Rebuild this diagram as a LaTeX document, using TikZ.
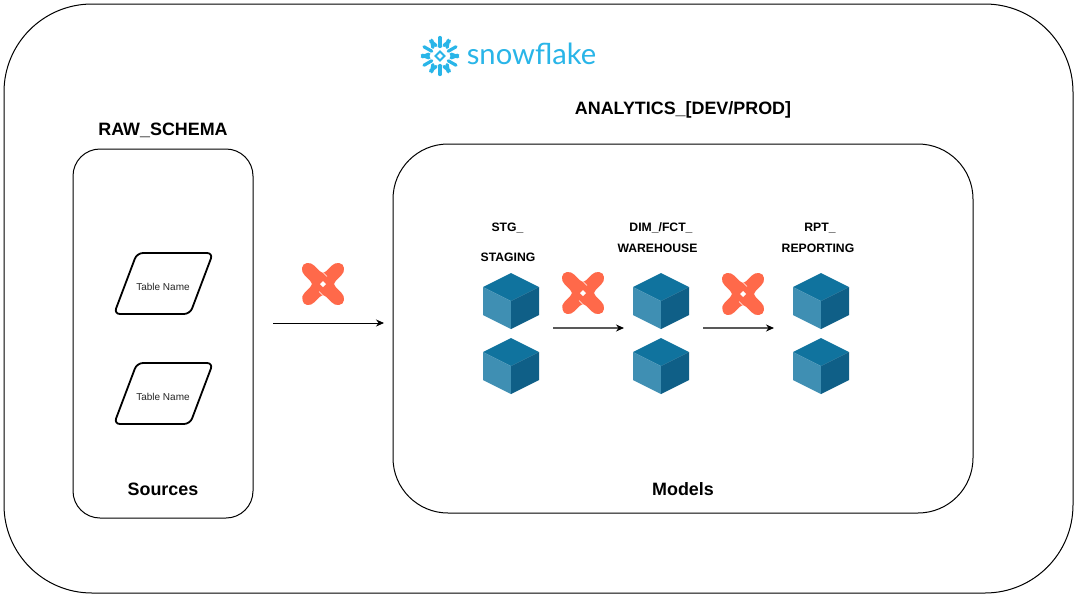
\documentclass[tikz,border=0pt]{standalone}
\usepackage{fontspec}
\usetikzlibrary{arrows.meta}
\setmainfont{Liberation Sans}
\newfontfamily\logofont{Lato}
\definecolor{cubetop}{HTML}{10739E}
\definecolor{cubeleft}{HTML}{3F8FB3}
\definecolor{cuberight}{HTML}{0F5F87}
\definecolor{dbtorange}{HTML}{FF694A}
\definecolor{snowblue}{HTML}{29B5E8}
\tikzset{
  x=1pt,y=-1pt,
  region/.style={draw=black,line width=1pt,fill=white},
  headlabel/.style={font=\fontsize{17.9}{20}\selectfont\bfseries,inner sep=0pt},
  smalllabel/.style={font=\fontsize{12.2}{15}\selectfont\bfseries,inner sep=0pt},
  tablelabel/.style={font=\fontsize{10}{12}\selectfont,inner sep=0pt,text=black!85},
  flow/.style={-{Stealth[length=8pt,width=7pt,black]},line width=0.9pt},
  softflow/.style={flow,draw=black!65,line width=1.1pt},
  tablebox/.style={draw=black,line width=1.8pt,rounded corners=6pt},
  cube/.pic={
    \fill[cubetop] (0,-28)--(28,-14)--(0,0)--(-28,-14)--cycle;
    \fill[cubeleft] (-28,-14)--(0,0)--(0,28)--(-28,14)--cycle;
    \fill[cuberight] (28,-14)--(0,0)--(0,28)--(28,14)--cycle;
  },
  dbtmark/.pic={
    \fill[dbtorange]
      (-20.5,-12) .. controls (-22,-19) and (-19,-22) .. (-12,-20.5)
      .. controls (-8,-19) and (-4,-12) .. (0,-11)
      .. controls (4,-12) and (8,-19) .. (12,-20.5)
      .. controls (19,-22) and (22,-19) .. (20.5,-12)
      .. controls (19,-8) and (12,-4) .. (11,0)
      .. controls (12,4) and (19,8) .. (20.5,12)
      .. controls (22,19) and (19,22) .. (12,20.5)
      .. controls (8,19) and (4,12) .. (0,11)
      .. controls (-4,12) and (-8,19) .. (-12,20.5)
      .. controls (-19,22) and (-21,19) .. (-20.5,12)
      .. controls (-19,8) and (-12,4) .. (-11,0)
      .. controls (-12,-4) and (-19,-8) .. (-20.5,-12) -- cycle;
    \fill[white] (0,-3)--(3,0)--(0,3)--(-3,0)--cycle;
    \draw[white,line width=0.5pt] (0.5,-11) -- (4,-7.5);
    \draw[white,line width=0.5pt] (-0.5,11) -- (-4,7.5);
  },
  flakearm/.pic={
    \draw[snowblue,line width=3.2pt,line cap=round] (0,-9.5)--(0,-18.5);
    \draw[snowblue,line width=3.4pt,line cap=round] (4,-10.5)--(9.5,-15);
    \draw[snowblue,line width=3.4pt,line cap=round] (-4,-10.5)--(-9.5,-15);
  }
}
\begin{document}
\begin{tikzpicture}
\useasboundingbox (0,0) rectangle (1077,598);
\fill[white] (0,0) rectangle (1077,598);
\draw[region,rounded corners=88pt] (4,4) rectangle (1073,593);
\draw[region,rounded corners=27pt] (73,149) rectangle (253,518);
\draw[region,rounded corners=55pt] (393,144) rectangle (973,513);

% snowflake mark
\foreach \a in {0,60,...,300} {
  \pic[rotate=\a] at (440,56) {flakearm};
}
\draw[snowblue,line width=1.8pt] (440,51.5)--(444.5,56)--(440,60.5)--(435.5,56)--cycle;
\node[inner sep=0pt,text=snowblue,font=\logofont\fontsize{29.2}{34}\selectfont] (brand) at (531.5,54) {snowflake};

\node[headlabel] (rawtitle) at (163,130) {RAW\_SCHEMA};
\node[headlabel] (antitle) at (683,110) {ANALYTICS\_[DEV/PROD]};
\node[headlabel] (sources) at (163,489) {Sources};
\node[headlabel] (models) at (683,489) {Models};

\draw[tablebox] (137,253)--(213,253)--(190,314)--(114,314)--cycle;
\node[tablelabel] (tableA) at (163,287) {Table Name};
\draw[tablebox] (137,363)--(213,363)--(190,424)--(114,424)--cycle;
\node[tablelabel] (tableB) at (163,397) {Table Name};

\node[smalllabel] (stg) at (507.5,228) {STG\_};
\node[smalllabel] (staging) at (508,257) {STAGING};
\node[smalllabel] (dim) at (661,228) {DIM\_/FCT\_};
\node[smalllabel] (wh) at (657.5,248) {WAREHOUSE};
\node[smalllabel] (rpt) at (820,228) {RPT\_};
\node[smalllabel] (rep) at (818,248) {REPORTING};

\foreach \x in {511,661,821} {
  \pic at (\x,301) {cube};
  \pic at (\x,366) {cube};
}
\pic at (323,284) {dbtmark};
\pic at (583,293) {dbtmark};
\pic at (743,294) {dbtmark};

\coordinate (a1) at (273,323);
\coordinate (a2) at (384,323);
\coordinate (b1) at (553,328);
\coordinate (b2) at (624,328);
\coordinate (c1) at (703,328);
\coordinate (c2) at (774,328);
\draw[flow] (a1)--(a2);
\draw[softflow] (b1)--(b2);
\draw[softflow] (c1)--(c2);
\end{tikzpicture}
\end{document}
